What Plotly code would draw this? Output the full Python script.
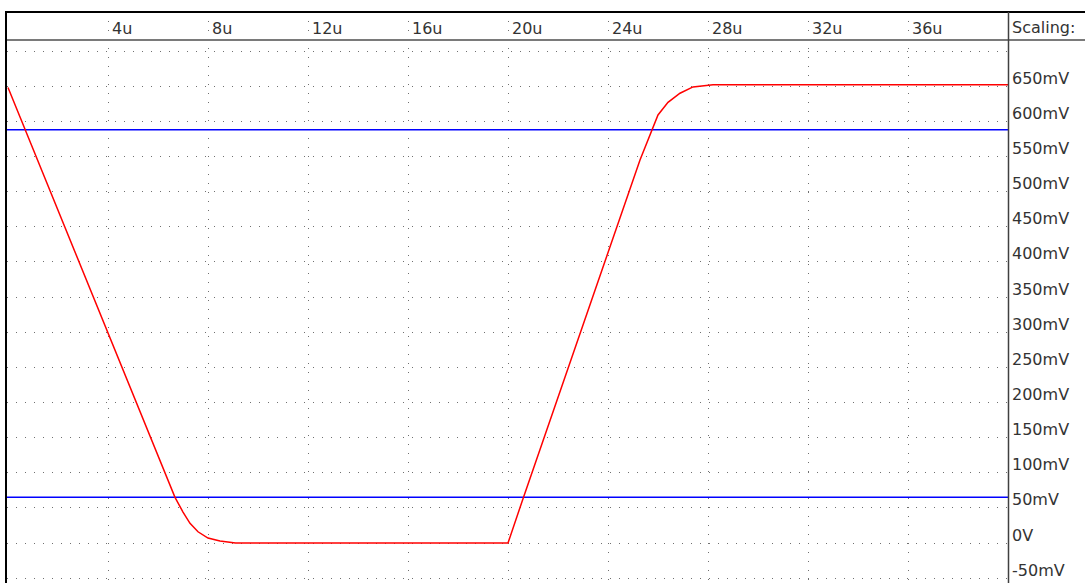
import plotly.graph_objects as go

# ---- data ----
time_us = [0.0, 6.4, 6.68, 7.0, 7.28, 7.6, 8.0, 8.48, 9.1, 20.0, 20.35, 20.6,
           25.28, 25.75, 26.0, 26.4, 26.88, 27.4, 28.2, 40.0]
voltage_mV = [648, 90, 65, 44, 28, 16, 7, 3, 0, 0, 37, 63,
              545, 588, 609, 627, 640, 649, 652, 652]

threshold_low_mV = 65
threshold_high_mV = 588

x_ticks = [4, 8, 12, 16, 20, 24, 28, 32, 36]
x_tick_labels = ["4u", "8u", "12u", "16u", "20u", "24u", "28u", "32u", "36u"]

y_ticks = [-50, 0, 50, 100, 150, 200, 250, 300, 350, 400, 450, 500, 550, 600, 650]
y_tick_labels = ["-50mV", "0V", "50mV", "100mV", "150mV", "200mV", "250mV",
                 "300mV", "350mV", "400mV", "450mV", "500mV", "550mV", "600mV", "650mV"]
y_grid = y_ticks + [700]

scale_title = "Scaling:"

# ---- geometry ----
W, H = 1085, 583
L, R, T, B = 7, 76, 12, 0
PW = W - L - R
PH = H - T - B


def px_x(p):
    return (p - L) / PW


def px_y(p):
    return (H - B - p) / PH


FONT = dict(family="DejaVu Sans", size=16, color="#333333")

fig = go.Figure()

fig.add_trace(go.Scatter(x=[-0.04, 40.04], y=[threshold_high_mV] * 2, mode="lines",
                         line=dict(color="#0000ff", width=1.5), hoverinfo="skip"))
fig.add_trace(go.Scatter(x=[-0.04, 40.04], y=[threshold_low_mV] * 2, mode="lines",
                         line=dict(color="#0000ff", width=1.5), hoverinfo="skip"))
fig.add_trace(go.Scatter(x=time_us, y=voltage_mV, mode="lines",
                         line=dict(color="#ff0000", width=1.5)))

shapes = [
    # top border
    dict(type="line", xref="paper", yref="paper", x0=px_x(5), x1=px_x(W), y0=px_y(12), y1=px_y(12),
         line=dict(color="#000000", width=2)),
    # left border
    dict(type="line", xref="paper", yref="paper", x0=px_x(6), x1=px_x(6), y0=0, y1=px_y(12),
         line=dict(color="#000000", width=2)),
    # strip divider
    dict(type="line", xref="paper", yref="paper", x0=px_x(7), x1=px_x(W), y0=px_y(40), y1=px_y(40),
         line=dict(color="#7a7a7a", width=2)),
    # right divider
    dict(type="line", xref="paper", yref="paper", x0=px_x(1008.5), x1=px_x(1008.5), y0=0, y1=px_y(12),
         line=dict(color="#404040", width=1.5)),
]

annotations = []
for v, t in zip(x_ticks, x_tick_labels):
    annotations.append(dict(x=v, xref="x", y=px_y(28.5), yref="paper", text=t, showarrow=False,
                            xanchor="left", yanchor="middle", xshift=2, font=FONT))
for v, t in zip(y_ticks, y_tick_labels):
    annotations.append(dict(x=px_x(1009.5), xref="paper", y=v, yref="y", text=t, showarrow=False,
                            xanchor="left", yanchor="middle", yshift=8, font=FONT))
annotations.append(dict(x=px_x(1009.5), xref="paper", y=px_y(27.5), yref="paper", text=scale_title,
                        showarrow=False, xanchor="left", yanchor="middle", font=FONT))

fig.update_layout(
    width=W, height=H,
    margin=dict(l=L, r=R, t=T, b=B, pad=0),
    paper_bgcolor="white", plot_bgcolor="white",
    showlegend=False,
    hovermode=False,
    shapes=shapes,
    annotations=annotations,
    xaxis=dict(range=[(L - 8) / 25, (L + PW - 8) / 25], tickvals=x_ticks, showticklabels=False,
               showgrid=True, gridcolor="#707070", gridwidth=1, griddash="1px,8px",
               zeroline=False, showline=False, ticks=""),
    yaxis=dict(range=[(543 - (H - B)) * 50 / 35.14, (543 - T) * 50 / 35.14], tickvals=y_grid,
               showticklabels=False, showgrid=True, gridcolor="#707070", gridwidth=1,
               griddash="1px,8px", zeroline=False, showline=False, ticks=""),
)

fig.write_html(
    "out.html",
    config={"displayModeBar": False, "staticPlot": True},
    post_script="document.body.style.margin='0';document.body.style.padding='0';"
                "document.body.style.overflow='hidden';",
)
